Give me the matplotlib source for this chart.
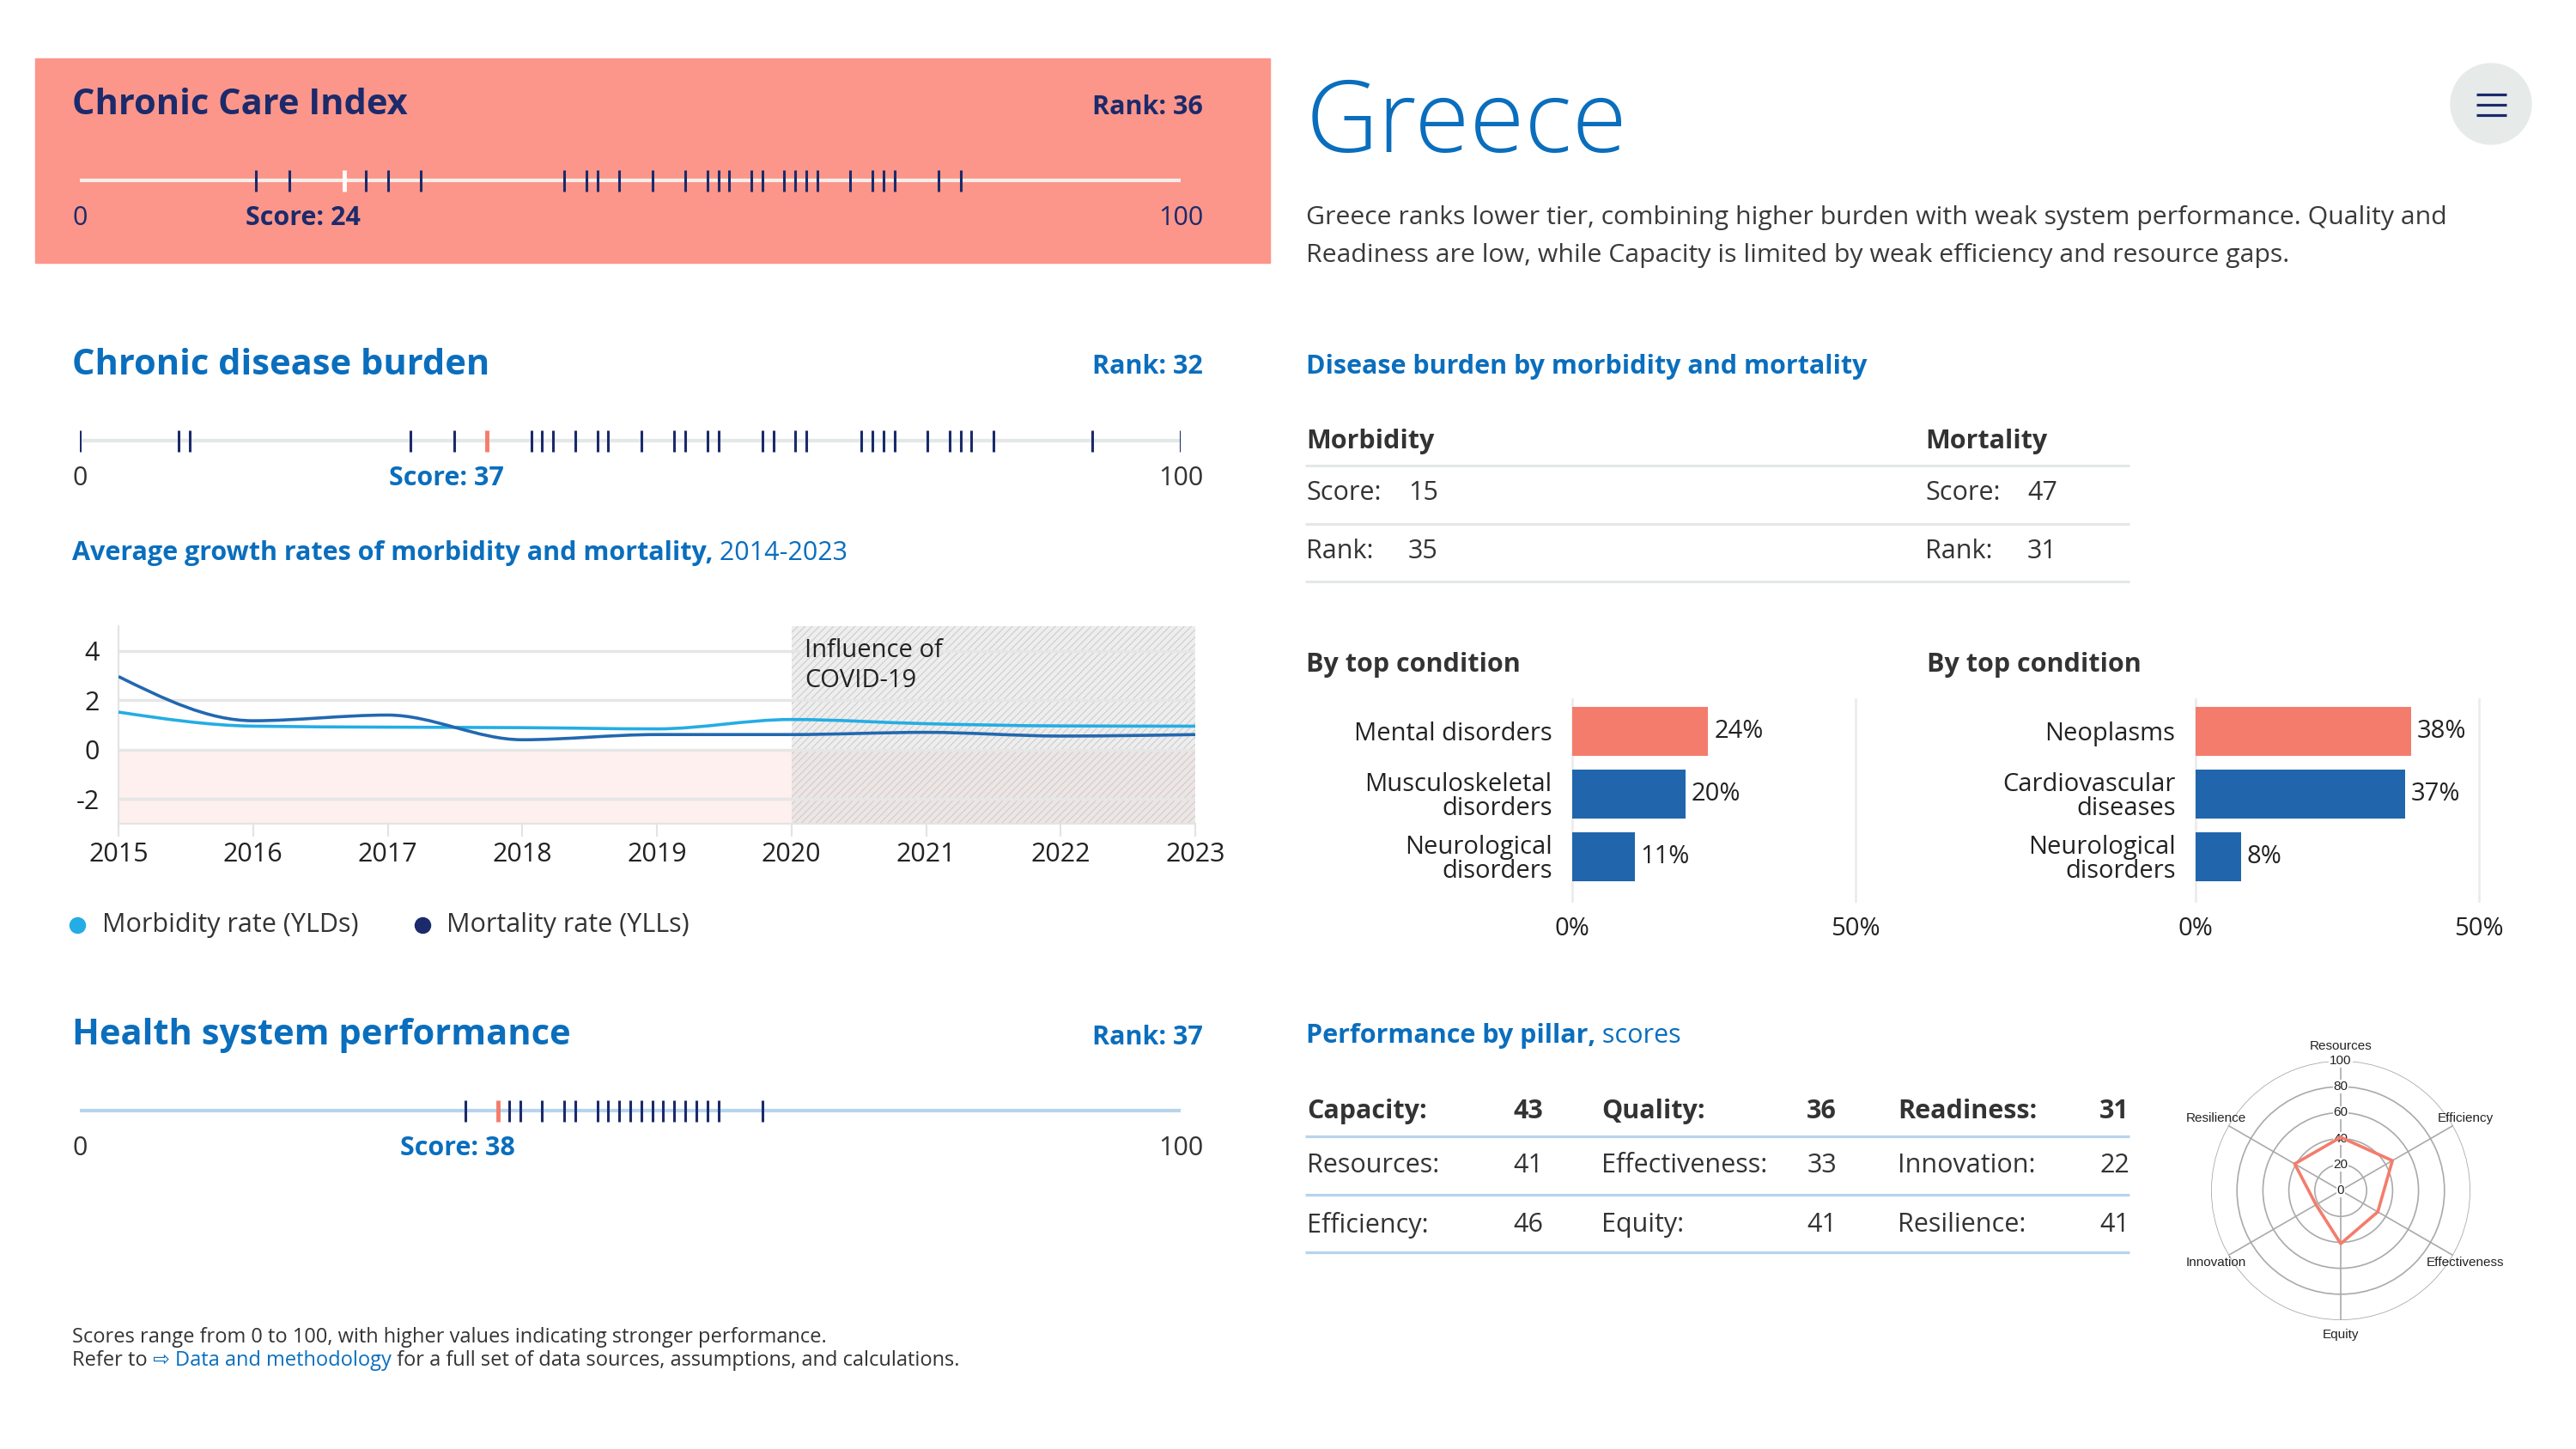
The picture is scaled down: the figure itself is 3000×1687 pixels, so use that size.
import numpy as np
import matplotlib.pyplot as plt
from matplotlib.path import Path
from matplotlib.patches import PathPatch, Rectangle, Circle

plt.rcParams['font.family'] = ['Open Sans', 'DejaVu Sans']
plt.rcParams['axes.unicode_minus'] = False
plt.rcParams['hatch.linewidth'] = 0.8

# ---- data ----
cci_score, cci_rank = 24, 36
cci_others = [16, 19, 26, 28, 31, 44, 46, 47, 49, 52, 55, 57, 58, 59, 61, 62, 64, 65, 66, 67,
              70, 72, 73, 74, 78, 80]
burden_score, burden_rank = 37, 32
burden_others = [0, 9, 10, 30, 34, 41, 42, 43, 45, 47, 48, 51, 54, 55, 57, 58, 62, 63, 65, 66,
                 71, 72, 73, 74, 77, 79, 80, 81, 83, 92, 100]
hsp_score, hsp_rank = 38, 37
hsp_others = [35, 39, 40, 42, 44, 45, 47, 48, 49, 50, 51, 52, 53, 54, 55, 56, 57, 58, 62]

years = [2015, 2016, 2017, 2018, 2019, 2020, 2021, 2022, 2023]
morbidity = [1.52, 0.95, 0.91, 0.89, 0.84, 1.22, 1.05, 0.96, 0.95]
mortality = [2.96, 1.17, 1.40, 0.40, 0.61, 0.61, 0.70, 0.55, 0.61]

morb_score, morb_rank = 15, 35
mort_score, mort_rank = 47, 31

morb_conditions = ['Mental disorders', 'Musculoskeletal\ndisorders', 'Neurological\ndisorders']
morb_shares = [24, 20, 11]
mort_conditions = ['Neoplasms', 'Cardiovascular\ndiseases', 'Neurological\ndisorders']
mort_shares = [38, 37, 8]

pillars = ['Capacity', 'Quality', 'Readiness']
pillar_scores = [43, 36, 31]
sub_row1 = ['Resources', 'Effectiveness', 'Innovation']
sub_row1_vals = [41, 33, 22]
sub_row2 = ['Efficiency', 'Equity', 'Resilience']
sub_row2_vals = [46, 41, 41]

radar_labels = ['Resources', 'Efficiency', 'Effectiveness', 'Equity', 'Innovation', 'Resilience']
radar_vals = [41, 46, 33, 41, 22, 41]

# ---- colours ----
NAVY = '#1b2a6b'
BLUE = '#0a6ebd'
SALMON = '#fc968a'
RED = '#f47c6c'
BARBLUE = '#2166ac'
TXT = '#333333'

# font sizes
F_TITLE = 30
F_BOLD = 22
F_TEXT = 22

W, H = 3000, 1687
fig = plt.figure(figsize=(30, 16.87), dpi=100)

ov = fig.add_axes([0, 0, 1, 1], zorder=0)
ov.set_xlim(0, W)
ov.set_ylim(H, 0)
ov.axis('off')


def px_axes(x0, y0, x1, y1, **kw):
    return fig.add_axes([x0 / W, 1 - y1 / H, (x1 - x0) / W, (y1 - y0) / H], **kw)


def seq_text(x, y, parts, **kw):
    r = fig.canvas.get_renderer()
    for s, style in parts:
        t = ov.text(x, y, s, **kw, **style)
        bb = t.get_window_extent(renderer=r)
        x = ov.transData.inverted().transform((bb.x1, bb.y0))[0]


def strip(y, others, score, line_c, tick_c, mark_c, lab_c, num_c):
    ax = px_axes(93, y - 25, 1375, y + 25, zorder=2)
    ax.set_xlim(0, 100)
    ax.set_ylim(-1, 1)
    ax.axis('off')
    ax.axhline(0, color=line_c, lw=3, solid_capstyle='butt', zorder=1)
    ax.vlines(others, -0.5, 0.5, color=tick_c, lw=2.2, zorder=2)
    ax.vlines([score], -0.5, 0.5, color=mark_c, lw=3.5, zorder=3)
    ax.text(0, -1.75, '0', ha='center', va='center', fontsize=F_TEXT, color=num_c, clip_on=False)
    ax.text(100, -1.75, '100', ha='center', va='center', fontsize=F_TEXT, color=num_c, clip_on=False)
    ax.annotate(f'Score: {score}', xy=(score, -1.75), xytext=(14, 0), textcoords='offset points',
                ha='right', va='center', fontsize=F_BOLD, fontweight='bold', color=lab_c,
                annotation_clip=False)


# ---- left column ----
ov.add_patch(Rectangle((41, 68), 1438, 238, color=SALMON, zorder=0))
ov.text(84, 122, 'Chronic Care Index', fontsize=F_TITLE, fontweight='bold', color=NAVY,
        va='center')
ov.text(1401, 125, f'Rank: {cci_rank}', fontsize=F_BOLD, fontweight='bold', color=NAVY,
        va='center', ha='right')
strip(210, cci_others, cci_score, '#f6efe9', NAVY, 'white', NAVY, NAVY)

ov.text(84, 425, 'Chronic disease burden', fontsize=F_TITLE, fontweight='bold', color=BLUE,
        va='center')
ov.text(1401, 427, f'Rank: {burden_rank}', fontsize=F_BOLD, fontweight='bold', color=BLUE,
        va='center', ha='right')
strip(513, burden_others, burden_score, '#e3e8e6', NAVY, RED, BLUE, TXT)

seq_text(84, 644, [('Average growth rates of morbidity and mortality,', dict(fontweight='bold')),
                   (' 2014-2023', dict())], fontsize=F_BOLD, color=BLUE, va='center')

# line chart
lc = px_axes(138, 729, 1392, 959, zorder=1)
lc.set_xlim(2015, 2023)
lc.set_ylim(-3, 5)
lc.axhspan(-3, 0, color='#fdf0ef', lw=0, zorder=0)
lc.axvspan(2020, 2023, facecolor=(0.86, 0.86, 0.86, 0.45), edgecolor='#cdcdcd', hatch='////',
           lw=0, zorder=0.5)
for v in [-2, 0, 2, 4]:
    lc.axhline(v, color='#e6e6e6', lw=2.5, zorder=1)
lc.set_yticks([-2, 0, 2, 4])
lc.set_xticks(years)
lc.tick_params(axis='y', length=0, pad=16, labelsize=F_TEXT, labelcolor='#222222')
lc.tick_params(axis='x', length=11, width=1.5, color='#e3e3e3', pad=4, labelsize=F_TEXT,
               labelcolor='#222222')
for s in ['top', 'right']:
    lc.spines[s].set_visible(False)
for s in ['left', 'bottom']:
    lc.spines[s].set_color('#e3e3e3')
    lc.spines[s].set_linewidth(1.5)
lc.text(2020.1, 3.4, 'Influence of\nCOVID-19', fontsize=21, color='#222222', va='center',
        linespacing=1.25, zorder=2)


def monotone_path(xs, ys):
    xs = np.asarray(xs, float)
    ys = np.asarray(ys, float)
    n = len(xs)
    h = np.diff(xs)
    s = np.diff(ys) / h
    t = np.zeros(n)
    for i in range(1, n - 1):
        s0, s1 = s[i - 1], s[i]
        p = (s0 * h[i] + s1 * h[i - 1]) / (h[i - 1] + h[i])
        sg = (1 if s0 >= 0 else -1) + (1 if s1 >= 0 else -1)
        t[i] = sg * min(abs(s0), abs(s1), 0.5 * abs(p))
    t[0] = (3 * s[0] - t[1]) / 2
    t[-1] = (3 * s[-1] - t[-2]) / 2
    verts = [(xs[0], ys[0])]
    codes = [Path.MOVETO]
    for i in range(n - 1):
        dx = h[i] / 3
        verts += [(xs[i] + dx, ys[i] + dx * t[i]), (xs[i + 1] - dx, ys[i + 1] - dx * t[i + 1]),
                  (xs[i + 1], ys[i + 1])]
        codes += [Path.CURVE4] * 3
    return Path(verts, codes)


lc.add_patch(PathPatch(monotone_path(years, morbidity), fill=False, edgecolor='#24ade4', lw=2.6,
                       zorder=3))
lc.add_patch(PathPatch(monotone_path(years, mortality), fill=False, edgecolor='#2268b0', lw=2.6,
                       zorder=4))

ov.plot([90], [1077], 'o', color='#24ade4', markersize=13)
ov.text(119, 1077, 'Morbidity rate (YLDs)', fontsize=F_TEXT, color=TXT, va='center')
ov.plot([492], [1077], 'o', color=NAVY, markersize=13)
ov.text(520, 1077, 'Mortality rate (YLLs)', fontsize=F_TEXT, color=TXT, va='center')

ov.text(84, 1205, 'Health system performance', fontsize=F_TITLE, fontweight='bold', color=BLUE,
        va='center')
ov.text(1401, 1208, f'Rank: {hsp_rank}', fontsize=F_BOLD, fontweight='bold', color=BLUE,
        va='center', ha='right')
strip(1293, hsp_others, hsp_score, '#b6d4ee', NAVY, RED, BLUE, TXT)

ov.text(84, 1557, 'Scores range from 0 to 100, with higher values indicating stronger performance.',
        fontsize=17, color=TXT, va='center')
seq_text(84, 1584, [('Refer to', dict(color=TXT)),
                    (' \u21e8 Data and methodology', dict(color=BLUE)),
                    (' for a full set of data sources, assumptions, and calculations.', dict(color=TXT))],
         fontsize=17, va='center')

# ---- right column ----
ov.text(1521, 177, 'Greece', fontsize=84, color=BLUE, fontweight='light', va='baseline')
ov.add_patch(Circle((2901, 121), 47, color='#e6ebea'))
for yy in [110, 122, 134]:
    ov.plot([2884, 2919], [yy, yy], color=NAVY, lw=2.3, solid_capstyle='butt')

ov.text(1521, 253, 'Greece ranks lower tier, combining higher burden with weak system performance. '
        'Quality and', fontsize=21.8, color='#3a3a3a', va='center')
ov.text(1521, 297, 'Readiness are low, while Capacity is limited by weak efficiency and resource gaps.',
        fontsize=21.8, color='#3a3a3a', va='center')

ov.text(1521, 427, 'Disease burden by morbidity and mortality', fontsize=F_BOLD, fontweight='bold',
        color=BLUE, va='center')
ov.text(1521, 514, 'Morbidity', fontsize=F_BOLD, fontweight='bold', color=TXT, va='center')
ov.text(2242, 514, 'Mortality', fontsize=F_BOLD, fontweight='bold', color=TXT, va='center')
for yy in [542, 610, 677]:
    ov.plot([1520, 2480], [yy, yy], color='#e3e8e6', lw=2.2, solid_capstyle='butt')
for x0, xv, sc, rk in [(1521, 1640, morb_score, morb_rank), (2242, 2361, mort_score, mort_rank)]:
    ov.text(x0, 574, 'Score:', fontsize=F_TEXT, color=TXT, va='center')
    ov.text(xv, 574, str(sc), fontsize=F_TEXT, color=TXT, va='center')
    ov.text(x0, 642, 'Rank:', fontsize=F_TEXT, color=TXT, va='center')
    ov.text(xv, 642, str(rk), fontsize=F_TEXT, color=TXT, va='center')

ov.text(1521, 774, 'By top condition', fontsize=F_BOLD, fontweight='bold', color=TXT, va='center')
ov.text(2244, 774, 'By top condition', fontsize=F_BOLD, fontweight='bold', color=TXT, va='center')


def bar_panel(x0, labels, shares):
    ax = px_axes(x0, 814, x0 + 330, 1049, zorder=1)
    colors = [RED] + [BARBLUE] * (len(shares) - 1)
    bars = ax.barh(range(len(shares)), shares, height=0.78, color=colors, zorder=2)
    ax.set_xlim(0, 50)
    ax.set_ylim(2.71, -0.51)
    for v in [0, 50]:
        ax.axvline(v, color='#ececec', lw=2, zorder=1, clip_on=False)
    ax.set_xticks([0, 50], ['0%', '50%'])
    ax.set_yticks(range(len(labels)), labels)
    ax.tick_params(length=0, labelsize=21, labelcolor='#222222')
    ax.tick_params(axis='x', pad=13)
    ax.tick_params(axis='y', pad=17)
    for lab in ax.get_yticklabels():
        lab.set_multialignment('right')
        lab.set_linespacing(0.95)
    for s in ax.spines.values():
        s.set_visible(False)
    ax.bar_label(bars, labels=[f'{v}%' for v in shares], padding=5, fontsize=21,
                 color='#222222')


bar_panel(1831, morb_conditions, morb_shares)
bar_panel(2557, mort_conditions, mort_shares)

seq_text(1521, 1206, [('Performance by pillar,', dict(fontweight='bold')), (' scores', dict())],
         fontsize=F_BOLD, color=BLUE, va='center')
lab_x = [1522, 1865, 2210]
val_x = [1797, 2139, 2480]
for i in range(3):
    ov.text(lab_x[i], 1294, pillars[i] + ':', fontsize=F_BOLD, fontweight='bold', color=TXT,
            va='center')
    ov.text(val_x[i], 1294, str(pillar_scores[i]), fontsize=F_BOLD, fontweight='bold',
            color=TXT, va='center', ha='right')
    ov.text(lab_x[i], 1357, sub_row1[i] + ':', fontsize=F_TEXT, color=TXT, va='center')
    ov.text(val_x[i], 1357, str(sub_row1_vals[i]), fontsize=F_TEXT, color=TXT, va='center',
            ha='right')
    ov.text(lab_x[i], 1426, sub_row2[i] + ':', fontsize=F_TEXT, color=TXT, va='center')
    ov.text(val_x[i], 1426, str(sub_row2_vals[i]), fontsize=F_TEXT, color=TXT, va='center',
            ha='right')
for yy in [1323, 1391, 1458]:
    ov.plot([1520, 2480], [yy, yy], color='#b6d4ee', lw=2.3, solid_capstyle='butt')

# radar
cx, cy, rad = 2726, 1386, 151
ra = px_axes(cx - rad, cy - rad, cx + rad, cy + rad, projection='polar', zorder=1)
ra.set_theta_offset(np.pi / 2)
ra.set_theta_direction(-1)
ra.set_ylim(0, 100)
angles = np.arange(len(radar_labels)) * 2 * np.pi / len(radar_labels)
ra.set_xticks(angles, [''] * len(angles))
ra.set_yticks([20, 40, 60, 80, 100], [])
ra.grid(color='#aaaaaa', lw=1.2)
ra.spines['polar'].set_visible(False)
ra.patch.set_alpha(0)
for v in [0, 20, 40, 60, 80, 100]:
    ra.text(0, v, str(v), ha='center', va='center', fontsize=11, color='#222222', zorder=2.5,
            family=['Liberation Sans', 'DejaVu Sans'],
            bbox=dict(facecolor='white', edgecolor='none', pad=0.6))
ra.plot(np.append(angles, angles[0]), radar_vals + radar_vals[:1], color=RED, lw=2.6, zorder=3)
for a, lab in zip(angles, radar_labels):
    ra.text(a, 111, lab, ha='center', va='center', fontsize=11, color='#222222',
            family=['Liberation Sans', 'DejaVu Sans'], clip_on=False)

fig.savefig('out.png', dpi=100)
